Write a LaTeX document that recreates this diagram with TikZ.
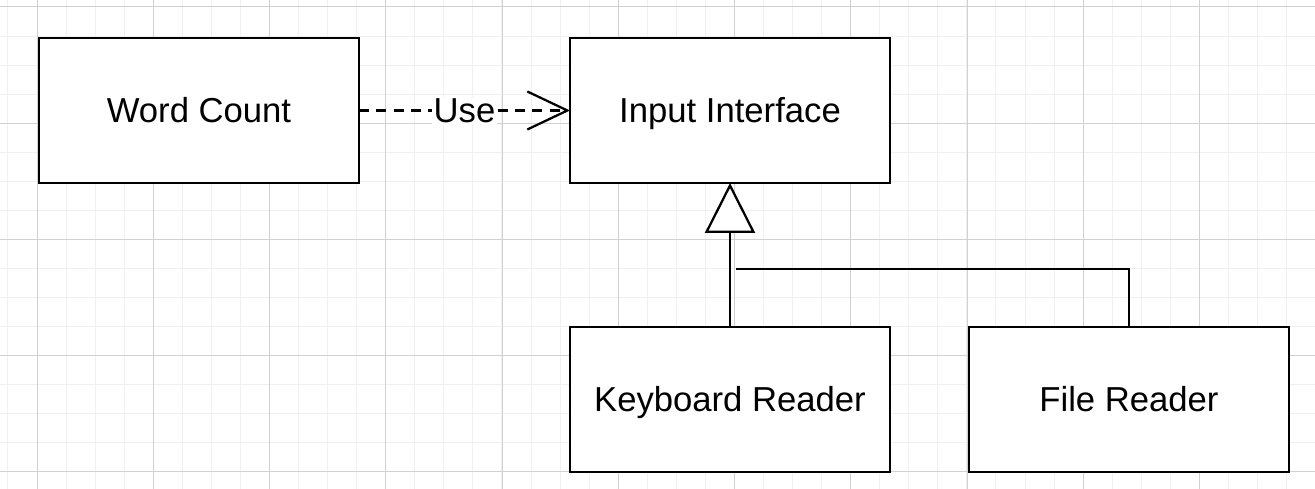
\documentclass[tikz,border=0pt]{standalone}
\usepackage{fontspec}
\setmainfont{Liberation Sans}
\usetikzlibrary{arrows.meta,positioning}
\tikzset{
uml/.style={line width=1.7pt},
classbox/.style={draw,rectangle,line width=1.7pt,fill=white,outer sep=0pt,
minimum width=240pt,minimum height=108.75pt,inner sep=0pt,
text height=18.6pt,text depth=0pt,
font=\fontsize{26}{30}\selectfont},
minorgrid/.style={draw=black!6,line width=0.75pt},
majorgrid/.style={draw=black!18,line width=0.75pt},
uses/.style={dash pattern=on 7.5pt off 5.5pt,
-{Straight Barb[length=30pt,width=28.5pt]}},
inherits/.style={-{Triangle[length=37.5pt,width=37.5pt,open,fill=white]}},
}

\begin{document}
\begin{tikzpicture}[uml]
                \useasboundingbox (0,0) rectangle (986.25pt,366.75pt);
                % grid
                \foreach \i in {0,...,44}
                    \draw[minorgrid] (5.955pt+21.795pt*\i,0) -- ++(0,366.75pt);
                \foreach \i in {0,...,16}
                    \draw[minorgrid] (0,361.5pt-21.795pt*\i) -- ++(986.25pt,0);
                \foreach \i in {0,...,10}
                    \draw[majorgrid] (27.75pt+87.1875pt*\i,0) -- ++(0,366.75pt);
                \foreach \i in {0,...,4}
                    \draw[majorgrid] (0,361.5pt-87.1875pt*\i) -- ++(986.25pt,0);

                \node[classbox] (wordcount) at (149.25pt,283.875pt) {Word Count};
                \node[classbox] (input) [right=158.25pt of wordcount] {Input Interface};
                \node[classbox] (keyboard) [below=108pt of input] {Keyboard Reader};
                \node[classbox] (filereader) [right=59.25pt of keyboard] {File Reader};
                \coordinate (junction) at (552pt,164.8pt);

                \draw[uses] (wordcount.east) -- node[fill=white,inner sep=1pt,
                    font=\fontsize{26}{30}\selectfont] {Use} (input.west);
                \draw[inherits] (keyboard.north) -- (input.south);
                \draw (filereader.north) |- (junction);
                %\draw (junction) -- (keyboard.north);
            \end{tikzpicture}
\end{document}
